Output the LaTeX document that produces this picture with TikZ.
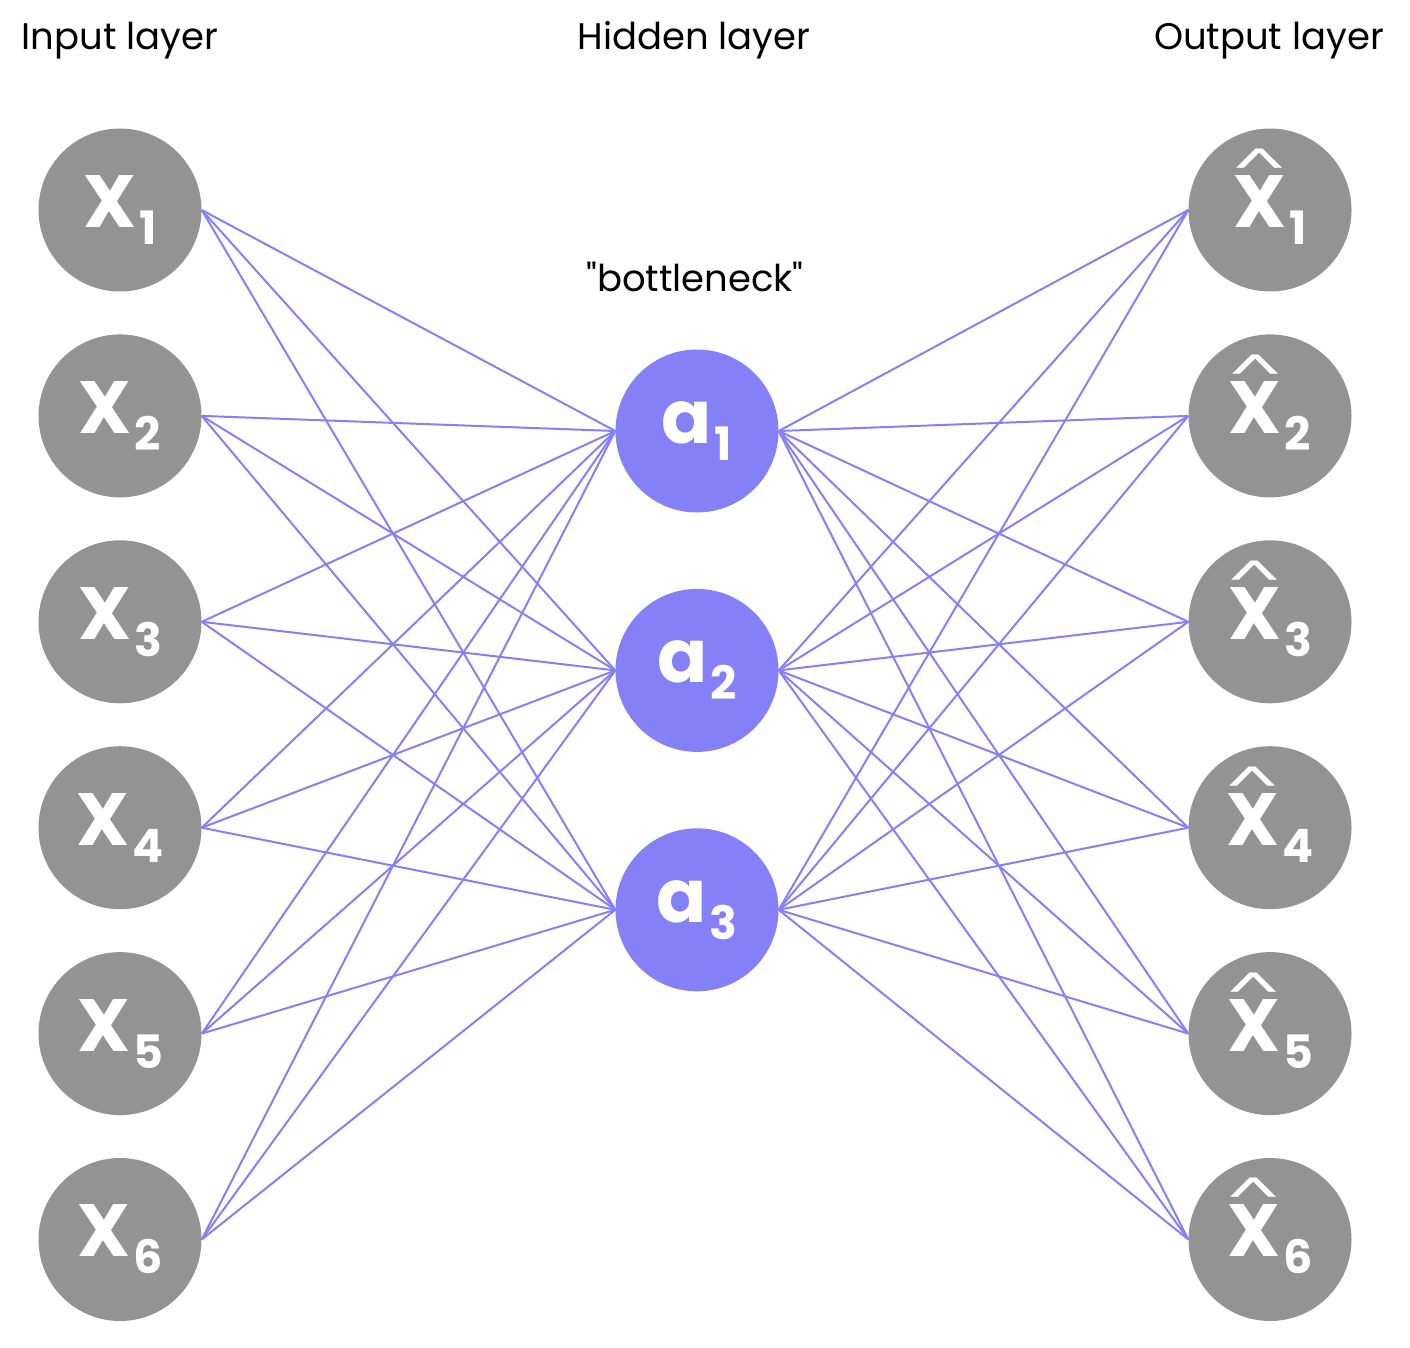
\documentclass[tikz,border=0pt]{standalone}
\usepackage{fontspec}
\setmainfont{Poppins}
\newfontfamily\titlefont{Poppins}
\usetikzlibrary{positioning}
\definecolor{nngray}{RGB}{147,147,147}
\definecolor{nnpurple}{RGB}{132,128,248}
\newcommand{\unitlbl}[2]{#1\hspace{3pt}\raisebox{-17pt}{\fontsize{46}{46}\selectfont #2}}
\newcommand{\hatx}{\ooalign{X\cr\hidewidth\raisebox{53pt}{\scalebox{1.8}[0.8]{\fontsize{46}{46}\selectfont\mdseries\textasciicircum}}\hidewidth\cr}}
\tikzset{
    inunit/.style={circle, fill=nngray, minimum size=163pt, inner sep=0pt, text=white, font=\fontsize{74}{74}\selectfont\bfseries},
    hidunit/.style={inunit, fill=nnpurple},
    layertitle/.style={anchor=base, font=\titlefont\fontsize{37}{37}\selectfont},
    link/.style={nnpurple, line width=2pt}
}

\begin{document}
\begin{tikzpicture}[x=1pt, y=-1pt, node distance=42.5pt]
    \useasboundingbox (0,0) rectangle (1410,1348);
    % input layer
    \node (in1) [inunit] at (120,210) {\unitlbl{X}{1}};
    \node (in2) [inunit, below=of in1] {\unitlbl{X}{2}};
    \node (in3) [inunit, below=of in2] {\unitlbl{X}{3}};
    \node (in4) [inunit, below=of in3] {\unitlbl{X}{4}};
    \node (in5) [inunit, below=of in4] {\unitlbl{X}{5}};
    \node (in6) [inunit, below=of in5] {\unitlbl{X}{6}};
    % bottleneck
    \node (hid1) [hidunit] at (697,431) {\unitlbl{a}{1}};
    \node (hid2) [hidunit, below=76pt of hid1] {\unitlbl{a}{2}};
    \node (hid3) [hidunit, below=76pt of hid2] {\unitlbl{a}{3}};
    % output layer
    \node (out1) [inunit] at (1270,210) {\unitlbl{\hatx}{1}};
    \node (out2) [inunit, below=of out1] {\unitlbl{\hatx}{2}};
    \node (out3) [inunit, below=of out2] {\unitlbl{\hatx}{3}};
    \node (out4) [inunit, below=of out3] {\unitlbl{\hatx}{4}};
    \node (out5) [inunit, below=of out4] {\unitlbl{\hatx}{5}};
    \node (out6) [inunit, below=of out5] {\unitlbl{\hatx}{6}};

    \node (tin) [layertitle] at (120,50) {Input layer};
    \node (thid) [layertitle] at (694,50) {Hidden layer};
    \node (tout) [layertitle] at (1269,50) {Output layer};
    \node (tneck) [layertitle] at (695,291) {"bottleneck"};

    \foreach \i in {1,...,6}
        \foreach \j in {1,2,3} {
            \draw [link] (in\i.east) -- (hid\j.west);
            \draw [link] (hid\j.east) -- (out\i.west);
        }
\end{tikzpicture}
\end{document}
